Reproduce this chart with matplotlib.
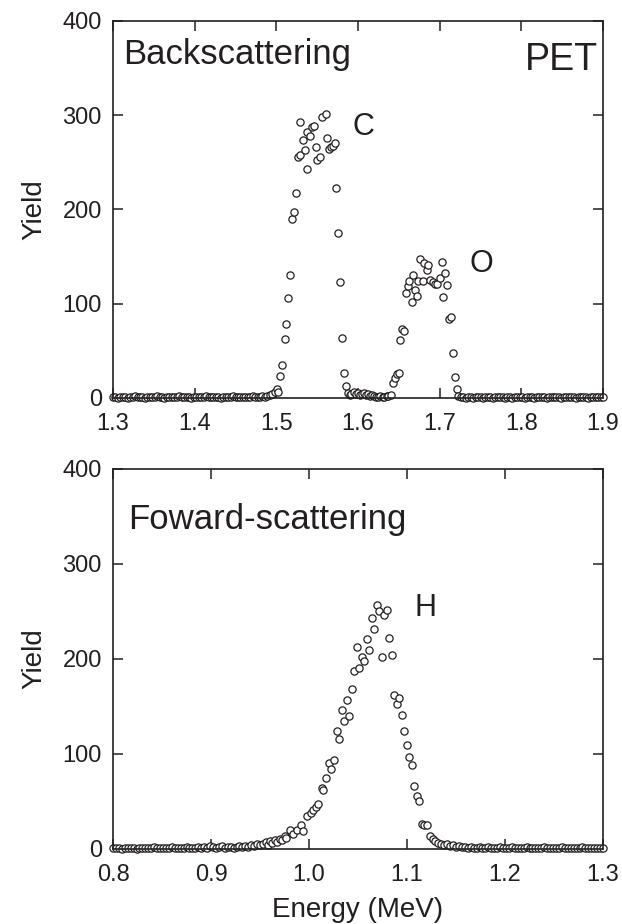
import matplotlib
matplotlib.use("Agg")
import matplotlib.pyplot as plt

plt.rcParams["font.family"] = ["Liberation Sans", "DejaVu Sans"]
ink = "#231f20"

# ---- backscattering spectrum (PET) ----
bs_energy = [
    1.300, 1.303, 1.306, 1.309, 1.312, 1.315, 1.318, 1.321, 1.324, 1.327,
    1.330, 1.333, 1.336, 1.339, 1.342, 1.345, 1.348, 1.351, 1.354, 1.357,
    1.360, 1.363, 1.366, 1.369, 1.372, 1.375, 1.378, 1.381, 1.384, 1.387,
    1.390, 1.393, 1.396, 1.399, 1.402, 1.405, 1.408, 1.411, 1.414, 1.417,
    1.420, 1.423, 1.426, 1.429, 1.432, 1.435, 1.438, 1.441, 1.444, 1.447,
    1.450, 1.453, 1.456, 1.459, 1.462, 1.465, 1.468, 1.471, 1.474, 1.477,
    1.480, 1.483, 1.486, 1.489, 1.492, 1.495, 1.498,
    # C edge
    1.5004, 1.5021, 1.5045, 1.5073, 1.5101, 1.5113, 1.5142, 1.5166, 1.5195, 1.5215,
    1.5235, 1.5262, 1.5284, 1.5290, 1.5329, 1.5350, 1.5374, 1.5378, 1.5418, 1.5440,
    1.5467, 1.5488, 1.5500, 1.5533, 1.5561, 1.5602, 1.5622, 1.5646, 1.5671, 1.5695,
    1.5723, 1.5735, 1.5760, 1.5785, 1.5809, 1.5830, 1.5854,
    # valley
    1.588, 1.590, 1.592, 1.595, 1.597, 1.600, 1.602, 1.605, 1.607, 1.610,
    1.612, 1.615, 1.617, 1.620, 1.622, 1.625, 1.627, 1.630, 1.632, 1.635, 1.637,
    # O edge
    1.6402, 1.6427, 1.6455, 1.6476, 1.6496, 1.6516, 1.6537, 1.6565, 1.6590, 1.6606,
    1.6630, 1.6659, 1.6679, 1.6700, 1.6728, 1.6740, 1.6760, 1.6793, 1.6810, 1.6841,
    1.6862, 1.6882, 1.6915, 1.6943, 1.6972, 1.7004, 1.7024, 1.7045, 1.7065, 1.7093,
    1.7118, 1.7138, 1.7159, 1.7183, 1.7207, 1.7227,
    1.726, 1.729, 1.732, 1.735, 1.738, 1.741, 1.744, 1.747, 1.750, 1.753,
    1.756, 1.759, 1.762, 1.765, 1.768, 1.771, 1.774, 1.777, 1.780, 1.783,
    1.786, 1.789, 1.792, 1.795, 1.798, 1.801, 1.804, 1.807, 1.810, 1.813,
    1.816, 1.819, 1.822, 1.825, 1.828, 1.831, 1.834, 1.837, 1.840, 1.843,
    1.846, 1.849, 1.852, 1.855, 1.858, 1.861, 1.864, 1.867, 1.870, 1.873,
    1.876, 1.879, 1.882, 1.885, 1.888, 1.891, 1.894, 1.897, 1.900,
]
bs_yield = [
    1, 1, 0, 1, 1, 1, 0, 1, 1, 2,
    1, 1, 1, 0, 1, 1, 1, 1, 2, 1,
    1, 0, 1, 1, 1, 1, 1, 2, 1, 1,
    1, 1, 0, 1, 1, 1, 1, 1, 2, 1,
    1, 1, 1, 1, 0, 1, 1, 1, 1, 2,
    1, 1, 1, 1, 1, 1, 1, 2, 1, 1,
    1, 2, 1, 2, 3, 4, 6,
    9, 6, 23, 35, 63, 78, 106, 130, 190, 197,
    217, 256, 258, 293, 274, 263, 243, 282, 278, 287,
    289, 266, 253, 256, 298, 301, 276, 264, 266, 267,
    270, 223, 175, 123, 64, 26, 13,
    5, 3, 4, 6, 4, 5, 3, 4, 5, 3,
    4, 2, 3, 2, 1, 1, 2, 1, 1, 2, 2,
    3, 16, 21, 25, 27, 61, 73, 71, 111, 119,
    124, 102, 131, 115, 108, 124, 147, 124, 143, 136,
    141, 125, 123, 121, 121, 127, 144, 107, 133, 120,
    84, 86, 48, 22, 10, 2,
    1, 1, 0, 1, 1, 0, 1, 1, 1, 0,
    1, 1, 1, 0, 1, 1, 1, 1, 0, 1,
    1, 0, 1, 1, 1, 1, 0, 1, 1, 1,
    0, 1, 1, 1, 1, 0, 1, 1, 1, 1,
    1, 0, 1, 1, 1, 1, 1, 0, 1, 1,
    1, 1, 0, 1, 1, 1, 1, 1, 1,
]

# ---- forward-scattering (recoil) spectrum ----
fs_energy = [
    0.800, 0.803, 0.806, 0.809, 0.812, 0.815, 0.818, 0.821, 0.824, 0.827,
    0.830, 0.833, 0.836, 0.839, 0.842, 0.845, 0.848, 0.851, 0.854, 0.857,
    0.860, 0.863, 0.866, 0.869, 0.872, 0.875, 0.878, 0.881, 0.884, 0.887,
    0.890, 0.893, 0.896, 0.899, 0.902, 0.905, 0.908, 0.911, 0.914, 0.917,
    0.920, 0.923, 0.926, 0.929, 0.932, 0.935, 0.938, 0.941, 0.944, 0.947, 0.950,
    0.953, 0.956, 0.958, 0.960, 0.962, 0.965, 0.967, 0.970, 0.972, 0.975,
    0.977, 0.9806, 0.9840, 0.9874, 0.9918, 0.9942, 0.9976, 1.0017, 1.0044, 1.0071,
    1.0095, 1.0130, 1.0146, 1.0173, 1.0207, 1.0224, 1.0258, 1.0283, 1.0306, 1.0333,
    1.0360, 1.0384, 1.0411, 1.0435, 1.0459, 1.0487, 1.0510, 1.0538, 1.0561, 1.0589,
    1.0615, 1.0640, 1.0663, 1.0691, 1.0714, 1.0742, 1.0765, 1.0793, 1.0820, 1.0844,
    1.0870, 1.0895, 1.0922, 1.0946, 1.0969, 1.0997, 1.1024, 1.1048, 1.1074, 1.1105,
    1.1126, 1.1150, 1.1173, 1.1200, 1.1235, 1.1260, 1.1290, 1.1320, 1.1350, 1.1380,
    1.1410, 1.1440, 1.1470, 1.1500,
    1.153, 1.156, 1.159, 1.162, 1.165, 1.168, 1.171, 1.174, 1.177, 1.180,
    1.183, 1.186, 1.189, 1.192, 1.195, 1.198, 1.201, 1.204, 1.207, 1.210,
    1.213, 1.216, 1.219, 1.222, 1.225, 1.228, 1.231, 1.234, 1.237, 1.240,
    1.243, 1.246, 1.249, 1.252, 1.255, 1.258, 1.261, 1.264, 1.267, 1.270,
    1.273, 1.276, 1.279, 1.282, 1.285, 1.288, 1.291, 1.294, 1.297, 1.300,
]
fs_yield = [
    1, 1, 1, 0, 1, 1, 1, 1, 0, 1,
    1, 1, 1, 1, 2, 1, 1, 1, 1, 1,
    2, 1, 1, 1, 1, 2, 1, 1, 1, 2,
    1, 2, 1, 3, 2, 1, 2, 3, 1, 2,
    2, 1, 2, 3, 2, 3, 2, 4, 3, 5, 4,
    5, 7, 4, 8, 6, 9, 7, 11, 9, 14,
    12, 20, 16, 20, 25, 19, 35, 38, 41, 44,
    47, 64, 62, 75, 91, 84, 94, 124, 116, 146,
    135, 157, 140, 168, 187, 213, 191, 202, 198, 221,
    209, 243, 232, 257, 250, 202, 246, 252, 222, 204,
    162, 153, 159, 141, 124, 109, 97, 88, 66, 56,
    51, 26, 25, 25, 14, 10, 8, 6, 5, 4,
    5, 3, 4, 2,
    3, 2, 2, 1, 2, 1, 1, 2, 1, 1,
    2, 1, 1, 1, 2, 1, 1, 1, 2, 1,
    1, 1, 1, 2, 1, 1, 1, 1, 1, 2,
    1, 1, 1, 1, 1, 2, 1, 1, 1, 1,
    1, 1, 2, 1, 1, 1, 1, 1, 1, 1,
]

fig = plt.figure(figsize=(6.22, 9.24), dpi=100)
ax1 = fig.add_axes([0.1817, 0.5693, 0.7878, 0.4080])
ax2 = fig.add_axes([0.1817, 0.0812, 0.7878, 0.4113])

mk = dict(ls="none", marker="o", ms=5.2, mfc="white", mec=ink, mew=0.9, clip_on=False)
ax1.plot(bs_energy, bs_yield, **mk)
ax2.plot(fs_energy, fs_yield, **mk)

ax1.set_xlim(1.3, 1.9)
ax1.set_xticks([1.3, 1.4, 1.5, 1.6, 1.7, 1.8, 1.9])
ax2.set_xlim(0.8, 1.3)
ax2.set_xticks([0.8, 0.9, 1.0, 1.1, 1.2, 1.3])
ax2.set_xticklabels(["0.8", "0.9", "1.0", "1.1", "1.2", "1.3"])

for ax in (ax1, ax2):
    ax.set_ylim(0, 400)
    ax.set_yticks([0, 100, 200, 300, 400])
    ax.tick_params(direction="in", top=True, right=True, length=7, width=1.1,
                   labelsize=17, colors=ink)
    ax.tick_params(axis="x", pad=11)
    ax.tick_params(axis="y", pad=8)
    for s in ax.spines.values():
        s.set_linewidth(1.2)
        s.set_color(ink)
    ax.set_ylabel("Yield", fontsize=20, color=ink, labelpad=11)

ax2.set_xlabel("Energy (MeV)", fontsize=20, color=ink, labelpad=8)

ax1.text(0.02, 0.91, "Backscattering", transform=ax1.transAxes, fontsize=25,
         color=ink, va="center", ha="left")
ax1.text(0.99, 0.897, "PET", transform=ax1.transAxes, fontsize=27,
         color=ink, va="center", ha="right")
ax1.text(1.607, 288, "C", fontsize=22, color=ink, va="center", ha="center")
ax1.text(1.751, 142, "O", fontsize=22, color=ink, va="center", ha="center")

ax2.text(0.031, 0.866, "Foward-scattering", transform=ax2.transAxes, fontsize=25,
         color=ink, va="center", ha="left")
ax2.text(1.119, 254, "H", fontsize=22, color=ink, va="center", ha="center")

fig.savefig("out.png", dpi=100)
